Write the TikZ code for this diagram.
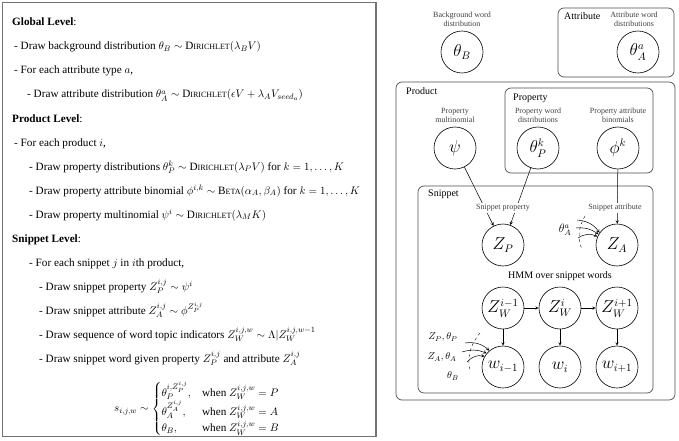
\documentclass[tikz,border=0pt]{standalone}
\usepackage{amsmath}
\usepackage{fontspec}
\setmainfont{Liberation Serif}
\usetikzlibrary{arrows}

% small caps made by hand (the serif font has none)
\newcommand{\fakesc}[2]{#1{\footnotesize #2}}
\newcommand{\Dirichlet}{\fakesc{D}{IRICHLET}}
\newcommand{\BetaDist}{\fakesc{B}{ETA}}

\tikzstyle{var} = [circle, draw=black, line width=0.6pt, minimum size=42pt,
  inner sep=0pt, font=\fontsize{16}{16}\selectfont]
\tikzstyle{plate} = [draw=black!70, line width=0.7pt, rounded corners=6pt]
\tikzstyle{platename} = [anchor=base west, inner sep=0pt,
  font=\fontsize{10}{12}\selectfont]
\tikzstyle{note} = [align=center, inner sep=1pt, text=black!75,
  font=\fontsize{8}{9.5}\selectfont]
\tikzstyle{gen} = [anchor=base west, inner sep=0pt,
  font=\fontsize{11.2}{13.4}\selectfont]
\tikzstyle{arrow} = [->, >=stealth, line width=0.5pt]
\tikzstyle{switch} = [dashed, line width=0.4pt]

\begin{document}
\begin{tikzpicture}[x=1pt, y=1pt]

  \useasboundingbox (0,0) rectangle (679,440);

  %% Generative process box
  \draw [draw=black!55, line width=1.2pt] (2.5,3.5) rectangle (376,437.5);

  \node (glob) [gen] at (12,414) {\textbf{Global Level}:};
  \node (g1) [gen] at (14,390) {- Draw background distribution $\theta_B \sim$ \Dirichlet$(\lambda_B V)$};
  \node (g2) [gen] at (14,366) {- For each attribute type $a$,};
  \node (g3) [gen] at (27,342) {- Draw attribute distribution $\theta_A^a \sim$ \Dirichlet$(\epsilon V + \lambda_A V_{seed_a})$};

  \node (prod) [gen] at (12,318) {\textbf{Product Level}:};
  \node (p1) [gen] at (14,294) {- For each product $i$,};
  \node (p2) [gen] at (29,270) {- Draw property distributions $\theta_P^k \sim$ \Dirichlet$(\lambda_P V)$ for $k = 1, \ldots, K$};
  \node (p3) [gen] at (29,246) {- Draw property attribute binomial $\phi^{i,k} \sim$ \BetaDist$(\alpha_A, \beta_A)$ for $k = 1, \ldots, K$};
  \node (p4) [gen] at (29,222) {- Draw property multinomial $\psi^i \sim$ \Dirichlet$(\lambda_M K)$};

  \node (snip) [gen] at (12,198) {\textbf{Snippet Level}:};
  \node (s1) [gen] at (29,174) {- For each snippet $j$ in $i$th product,};
  \node (s2) [gen] at (39,150) {- Draw snippet property $Z_P^{i,j} \sim \psi^i$};
  \node (s3) [gen] at (39,126) {- Draw snippet attribute $Z_A^{i,j} \sim \phi^{Z_P^{i,j}}$};
  \node (s4) [gen] at (39,102) {- Draw sequence of word topic indicators $Z_W^{i,j,w} \sim \Lambda | Z_W^{i,j,w-1}$};
  \node (s5) [gen] at (39,78) {- Draw snippet word given property $Z_P^{i,j}$ and attribute $Z_A^{i,j}$};
  \node (emit) [anchor=west, inner sep=0pt, font=\fontsize{11.2}{13.4}\selectfont] at (114,31)
    {$s_{i,j,w} \sim \begin{cases}
      \theta_P^{i,Z_P^{i,j}}, & \text{when } Z_W^{i,j,w} = P\\
      \theta_A^{Z_A^{i,j}}, & \text{when } Z_W^{i,j,w} = A\\
      \theta_B, & \text{when } Z_W^{i,j,w} = B
    \end{cases}$};

  %% Plates
  \draw [plate] (558,363) rectangle (674,432);
  \draw [plate] (396,40) rectangle (675,358);
  \draw [plate] (505,267) rectangle (653,352);
  \draw [plate] (418,47) rectangle (653,254);

  \node (attname) [platename] at (564,420.5) {Attribute};
  \node (prodname) [platename] at (406,345.5) {Product};
  \node (propname) [platename] at (513,339.5) {Property};
  \node (snipname) [platename] at (428,243.5) {Snippet};

  %% Global variables
  \node (thetaB) [var] at (462,388) {$\theta_B$};
  \node (bgnote) [note] at (462,420.5) {Background word\\distribution};
  \node (thetaA) [var] at (638,388) {$\theta_A^a$};
  \node (attnote) [note] at (634,420.5) {Attribute word\\distributions};

  %% Product variables
  \node (psi) [var] at (455,292) {$\psi$};
  \node (psinote) [note] at (455,324.5) {Property\\multinomial};
  \node (thetaP) [var] at (538,292) {$\theta_P^k$};
  \node (thetaPnote) [note] at (538,324.5) {Property word\\distributions};
  \node (phi) [var] at (618,292) {$\phi^k$};
  \node (phinote) [note] at (618,324.5) {Property attribute\\binomials};

  %% Snippet variables
  \node (ZP) [var] at (503,195) {$Z_P$};
  \node (ZA) [var] at (617,195) {$Z_A$};

  \node (ZW1) [var] at (503,132) {$Z_W^{i-1}$};
  \node (ZW2) [var] at (560,132) {$Z_W^{i}$};
  \node (ZW3) [var] at (617,132) {$Z_W^{i+1}$};
  \node (w1) [var] at (503,73) {$w_{i-1}$};
  \node (w2) [var] at (560,73) {$w_i$};
  \node (w3) [var] at (617,73) {$w_{i+1}$};

  \draw [arrow] (psi) -- (ZP);
  \draw [arrow] (thetaP) -- (ZP);
  \draw [arrow] (phi) -- (ZA);

  \node (ZPnote) [note, fill=white] at (503,232) {Snippet property};
  \node (ZAnote) [note, fill=white] at (615,232) {Snippet attribute};
  \node (hmm) [font=\fontsize{10}{12}\selectfont] at (560,164) {HMM over snippet words};

  \draw [arrow] (ZW1) -- (ZW2);
  \draw [arrow] (ZW2) -- (ZW3);
  \draw [arrow] (ZW1) -- (w1);
  \draw [arrow] (ZW2) -- (w2);
  \draw [arrow] (ZW3) -- (w3);

  %% Attribute switch into Z_A
  \node (thetaAin) [font=\fontsize{12}{12}\selectfont, inner sep=0pt] at (565,210) {$\theta_A^a$};
  \coordinate (za1) at (577,220);
  \coordinate (za2) at (576,212);
  \coordinate (za3) at (578,202);
  \draw [arrow] (za1) to[bend left=25] (ZA.145);
  \draw [arrow] (za2) to[bend left=20] (ZA.150);
  \draw [arrow] (za3) to[bend left=30] (ZA.157);
  \coordinate (swA1) at (585,224);
  \coordinate (swA2) at (582,190);
  \draw [switch] (swA1) to[bend right=25] (swA2);

  %% Word switch into w_{i-1}
  \node (srcP) [font=\fontsize{10}{12}\selectfont, inner sep=0pt] at (443,103) {$Z_P, \theta_P$};
  \node (srcA) [font=\fontsize{10}{12}\selectfont, inner sep=0pt] at (442,83) {$Z_A, \theta_A$};
  \node (srcB) [font=\fontsize{10}{12}\selectfont, inner sep=0pt] at (453,64) {$\theta_B$};
  \coordinate (wa1) at (465,97);
  \coordinate (wa2) at (462,88);
  \coordinate (wa3) at (467,78);
  \draw [arrow] (wa1) to[bend left=25] (w1.130);
  \draw [arrow] (wa2) to[bend left=20] (w1.140);
  \draw [arrow] (wa3) to[bend left=30] (w1.150);
  \coordinate (swW1) at (480,107);
  \coordinate (swW2) at (470,68);
  \draw [switch] (swW1) to[bend right=25] (swW2);

\end{tikzpicture}
\end{document}
